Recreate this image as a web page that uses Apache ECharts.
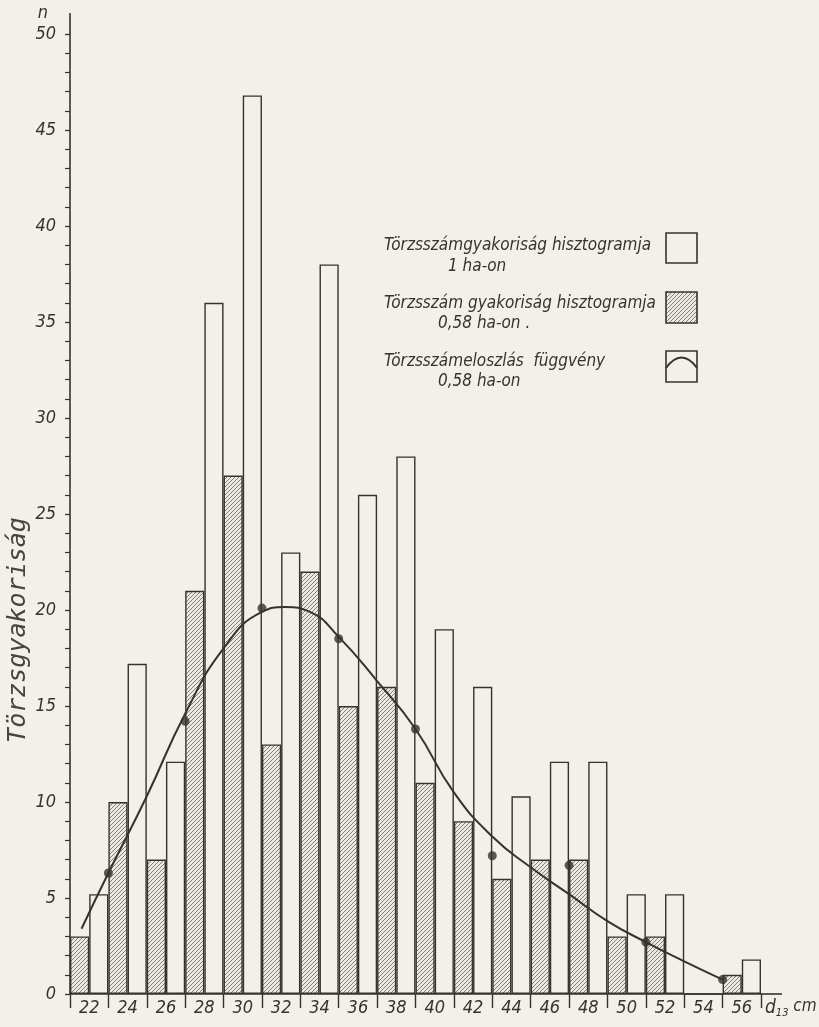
<!DOCTYPE html>
<html>
<head>
<meta charset="utf-8">
<title>Törzsgyakoriság</title>
<script src="https://cdn.jsdelivr.net/npm/echarts@6/dist/echarts.min.js"></script>
<style>
    html, body { margin: 0; padding: 0; background: #f1f0eb; }
    #main { width: 819px; height: 1027px; }
</style>
</head>
<body>
<div id="main"></div>
<script>
    //átmérő osztályok (cm)
    var classes = ['22', '24', '26', '28', '30', '32', '34', '36', '38', '40', '42', '44', '46', '48', '50', '52', '54', '56'];
    //törzsszám 0,58 ha-on (vonalkázott)
    var hatchedValues = [3, 10, 7, 21, 27, 13, 22, 15, 16, 11, 9, 6, 7, 7, 3, 3, 0, 1];
    //törzsszám 1 ha-on (fehér)
    var hectareValues = [5.2, 17.2, 12.1, 36, 46.8, 23, 38, 26, 28, 19, 16, 10.3, 12.1, 12.1, 5.2, 5.2, 0, 1.8];
    //eloszlás függvény (cm, darab)
    var curveX = [21.6, 23, 25, 27, 29, 31, 32.2, 33.5, 35, 37, 39, 41, 43, 45, 47, 49, 51, 53, 55];
    var curveY = [3.4, 6.3, 10.3, 14.6, 18.0, 19.9, 20.15, 19.9, 18.6, 16.3, 13.8, 10.5, 8.2, 6.6, 5.2, 3.8, 2.7, 1.7, 0.75];
    //pontok a függvényen
    var dotX = [23, 27, 31, 35, 39, 43, 47, 51, 55];
    var dotY = [6.3, 14.2, 20.1, 18.5, 13.8, 7.2, 6.7, 2.7, 0.75];
    //tengely feliratok
    var yTicks = [0, 5, 10, 15, 20, 25, 30, 35, 40, 45, 50];

    var ink = '#38322e';
    var paper = '#f1f0eb';
    var font = '"Liberation Sans Narrow", "DejaVu Sans Condensed", "Roboto", sans-serif';

    //vonalkázás minta
    function makeHatch() {
        var s = 4;
        var c = document.createElement('canvas');
        c.width = s; c.height = s;
        var ctx = c.getContext('2d');
        ctx.fillStyle = '#ebe9e2';
        ctx.fillRect(0, 0, s, s);
        ctx.strokeStyle = '#6a625b';
        ctx.lineWidth = 0.8;
        ctx.beginPath();
        ctx.moveTo(0, s); ctx.lineTo(s, 0);
        ctx.moveTo(-1, 1); ctx.lineTo(1, -1);
        ctx.moveTo(s - 1, s + 1); ctx.lineTo(s + 1, s - 1);
        ctx.stroke();
        return c;
    }
    var hatch = { image: makeHatch(), repeat: 'repeat' };

    var curveData = curveX.map(function (x, i) { return [x, curveY[i]]; });
    var dotData = dotX.map(function (x, i) { return [x, dotY[i]]; });

    var chart = echarts.init(document.getElementById('main'));

    function legendText(text, x, y) {
        return {
            type: 'text', z: 100,
            style: { text: text, x: x, y: y, fill: ink, font: 'italic 17px ' + font, verticalAlign: 'middle' }
        };
    }

    var option = {
        backgroundColor: paper,
        animation: false,
        grid: { left: 70, right: 58, top: 34, bottom: 33 },
        xAxis: [{
            type: 'category',
            data: classes,
            boundaryGap: true,
            axisLine: { lineStyle: { color: ink, width: 1.6 } },
            axisTick: { show: true, length: 14, interval: 0, lineStyle: { color: ink, width: 1.4 } },
            axisLabel: { interval: 0, margin: 5, color: ink, fontStyle: 'italic', fontSize: 18, fontFamily: font },
            splitLine: { show: false }
        }, {
            type: 'value',
            min: 21, max: 57,
            show: false
        }],
        yAxis: {
            type: 'value',
            min: 0, max: 50, interval: 5,
            name: 'n',
            nameLocation: 'end',
            nameGap: 12,
            nameTextStyle: { color: ink, fontStyle: 'italic', fontSize: 18, fontFamily: font, align: 'right', padding: [0, 22, 0, 0] },
            axisLine: { show: true, lineStyle: { color: ink, width: 1.6 } },
            axisTick: { show: true, length: 5, lineStyle: { color: ink, width: 1.3 } },
            minorTick: { show: true, splitNumber: 5, length: 5, lineStyle: { color: ink, width: 1.2 } },
            axisLabel: {
                margin: 14, color: ink, fontStyle: 'italic', fontSize: 18, fontFamily: font,
                formatter: function (v) { return yTicks.indexOf(v) >= 0 ? String(v) : ''; }
            },
            splitLine: { show: false }
        },
        series: [{
            name: 'Törzsszám gyakoriság hisztogramja 0,58 ha-on',
            type: 'bar',
            xAxisIndex: 0,
            data: hatchedValues,
            barGap: '0%',
            barCategoryGap: '0%',
            itemStyle: { color: hatch, borderColor: ink, borderWidth: 1.4 },
            z: 2
        }, {
            name: 'Törzsszámgyakoriság hisztogramja 1 ha-on',
            type: 'bar',
            xAxisIndex: 0,
            data: hectareValues,
            barGap: '0%',
            barCategoryGap: '0%',
            itemStyle: { color: paper, borderColor: ink, borderWidth: 1.4 },
            z: 2
        }, {
            name: 'Törzsszámeloszlás függvény 0,58 ha-on',
            type: 'line',
            xAxisIndex: 1,
            data: curveData,
            smooth: 0.5,
            showSymbol: false,
            lineStyle: { color: ink, width: 2 },
            z: 5
        }, {
            type: 'scatter',
            xAxisIndex: 1,
            data: dotData,
            symbolSize: 9,
            itemStyle: { color: ink },
            z: 6
        }],
        graphic: [
            //tengely meghosszabbítás
            { type: 'line', shape: { x1: 70, y1: 13, x2: 70, y2: 34 }, style: { stroke: ink, lineWidth: 1.6 } },
            { type: 'line', shape: { x1: 761, y1: 994, x2: 782, y2: 994 }, style: { stroke: ink, lineWidth: 1.6 } },
            //x tengely név
            {
                type: 'text',
                style: {
                    x: 765, y: 998,
                    text: '{d|d}{s|13}{c| cm}',
                    rich: {
                        d: { fill: ink, font: 'italic 19px ' + font },
                        s: { fill: ink, font: 'italic 11px ' + font, padding: [9, 0, 0, 0] },
                        c: { fill: ink, font: 'italic 17px ' + font, padding: [0, 0, 4, 0] }
                    }
                }
            },
            //y tengely cím
            {
                type: 'text',
                x: 18, y: 630,
                rotation: Math.PI / 2,
                style: { text: 'Törzsgyakoriság', fill: '#4a433e', font: 'oblique 25px "DejaVu Sans Mono", monospace', align: 'center', verticalAlign: 'middle' }
            },
            //jelmagyarázat
            legendText('Törzsszámgyakoriság hisztogramja', 384, 246),
            legendText('1 ha-on', 448, 267),
            legendText('Törzsszám gyakoriság hisztogramja', 384, 304),
            legendText('0,58 ha-on .', 438, 324),
            legendText('Törzsszámeloszlás  függvény', 384, 362),
            legendText('0,58 ha-on', 438, 382),
            { type: 'rect', shape: { x: 666, y: 233, width: 31, height: 30 }, style: { fill: paper, stroke: ink, lineWidth: 1.6 } },
            { type: 'rect', shape: { x: 666, y: 292, width: 31, height: 31 }, style: { fill: hatch, stroke: ink, lineWidth: 1.6 } },
            { type: 'rect', shape: { x: 666, y: 351, width: 31, height: 31 }, style: { fill: paper, stroke: ink, lineWidth: 1.6 } },
            {
                type: 'bezierCurve',
                shape: { x1: 666, y1: 368, cpx1: 676, cpy1: 354, cpx2: 687, cpy2: 354, x2: 697, y2: 368 },
                style: { stroke: ink, lineWidth: 1.8, fill: null }
            }
        ]
    };

    chart.setOption(option);
    window.onresize = chart.resize;
</script>
</body>
</html>
